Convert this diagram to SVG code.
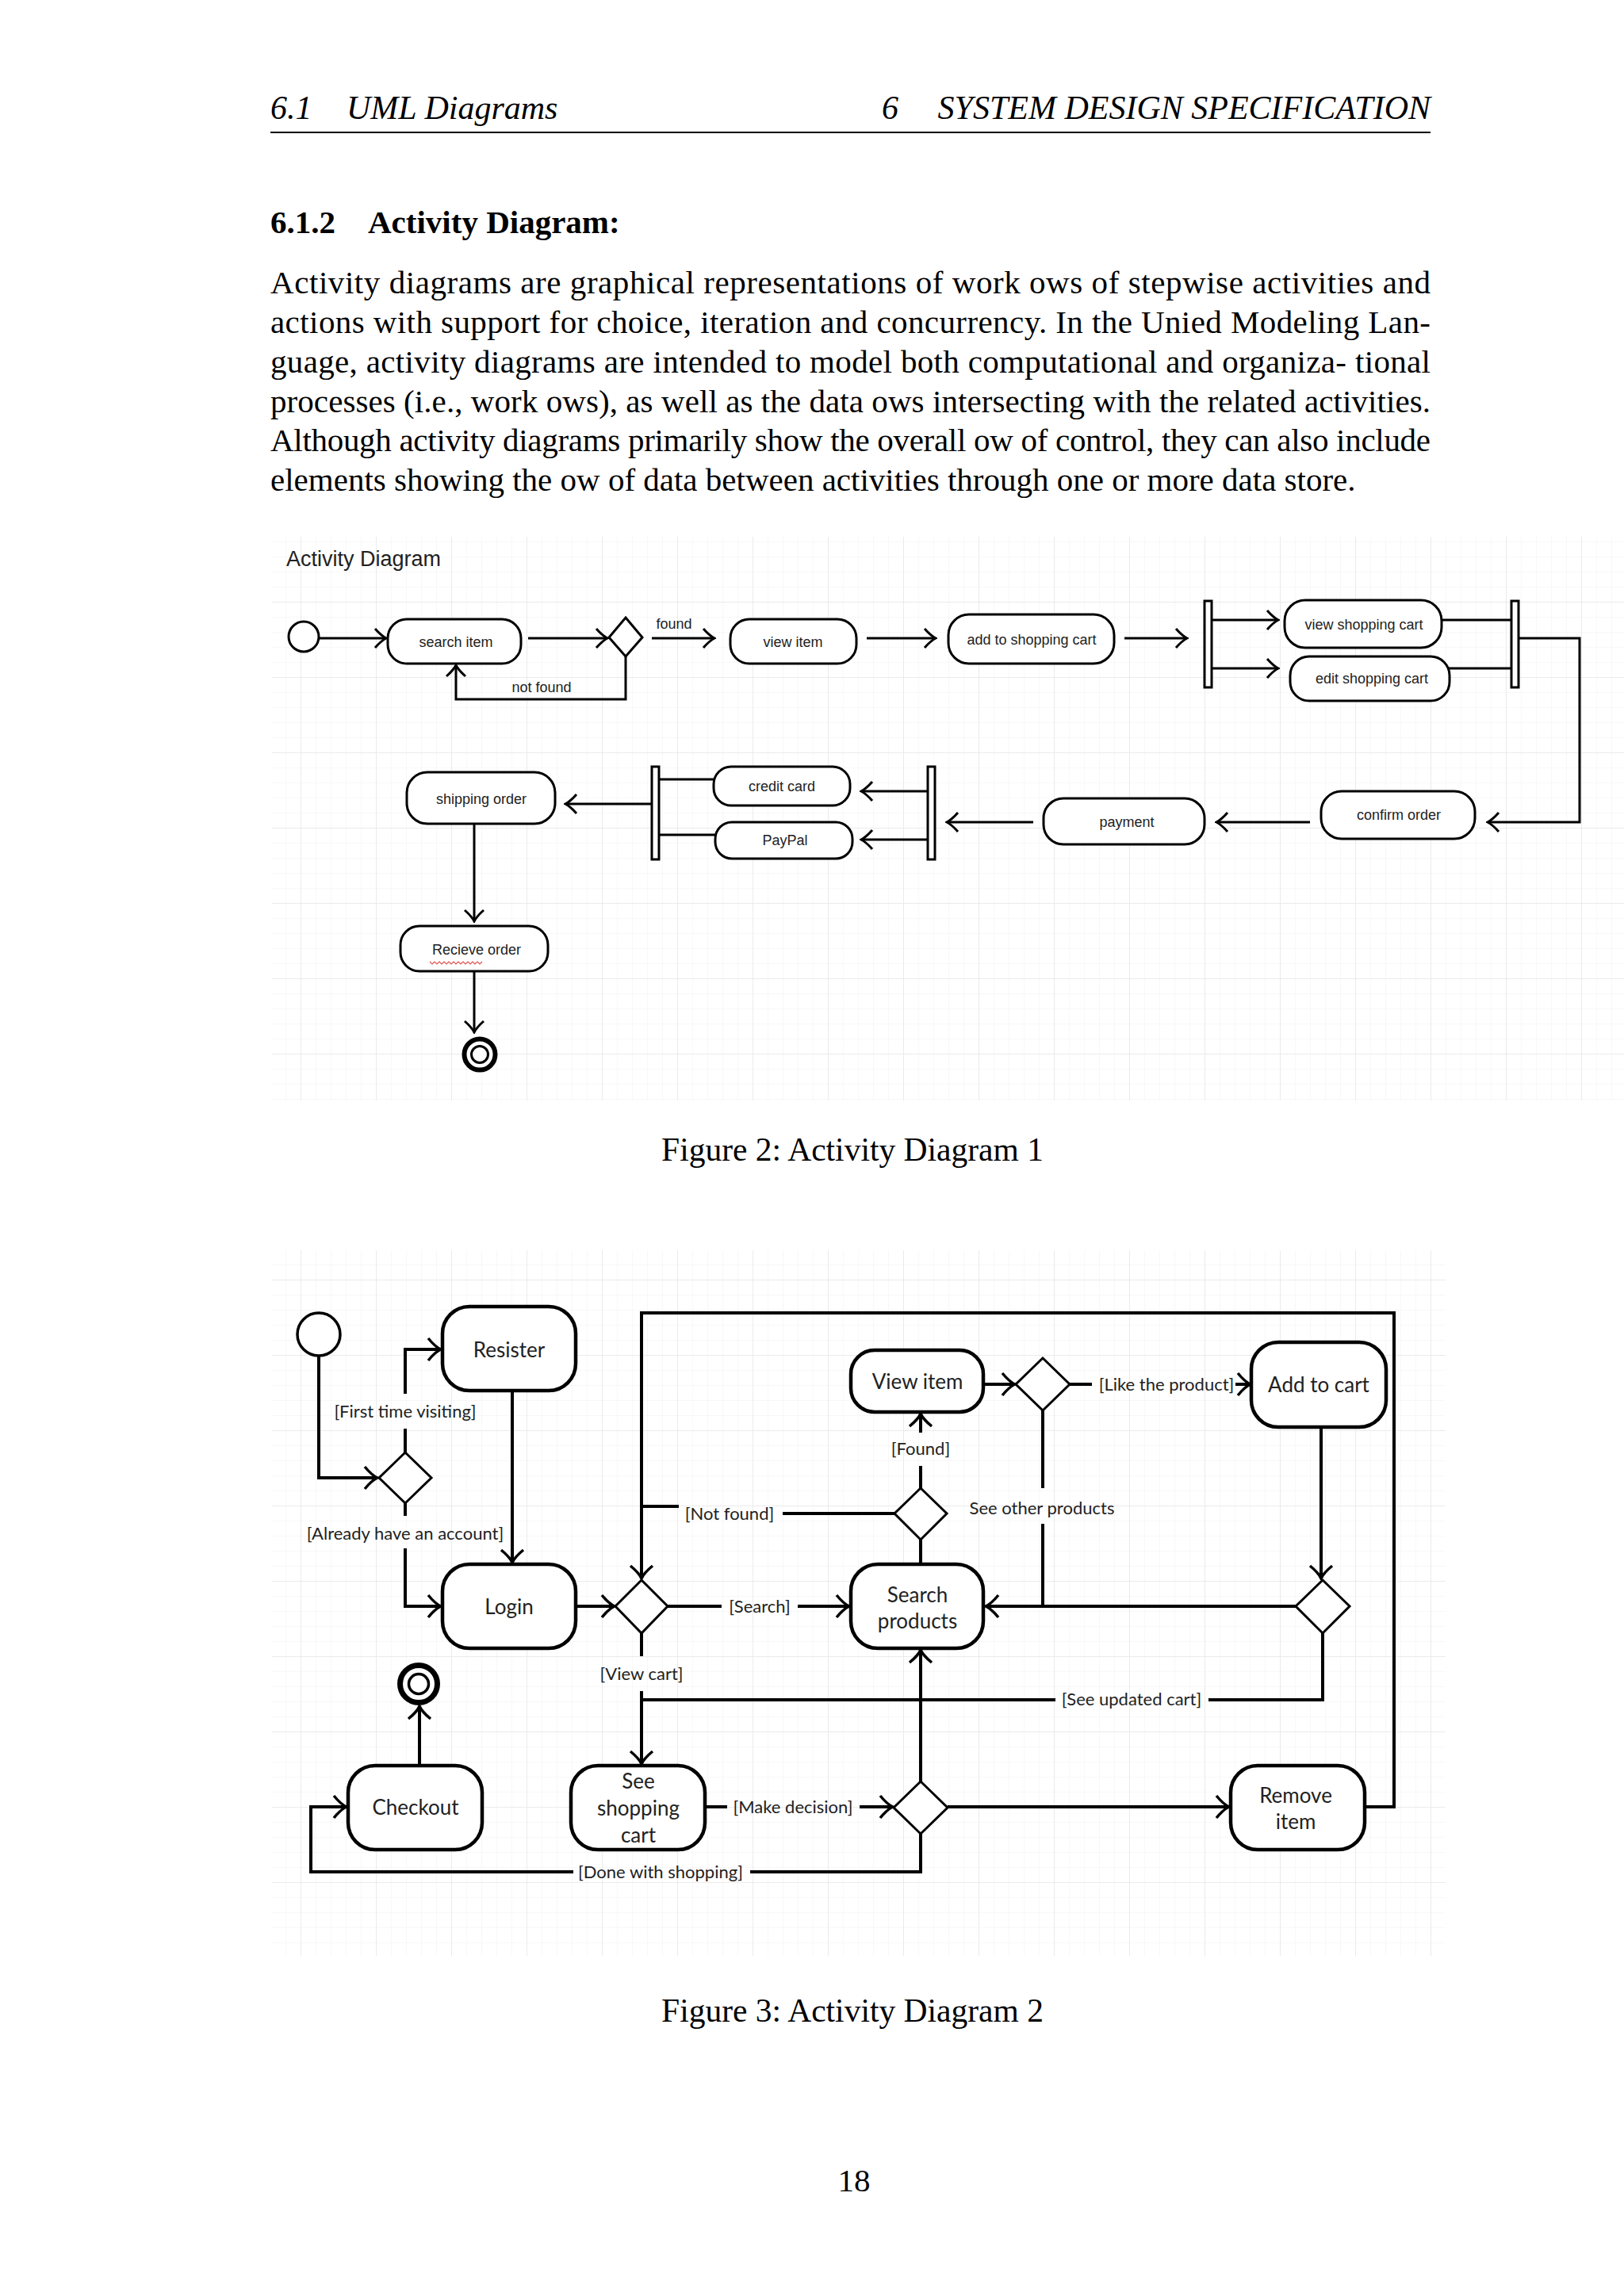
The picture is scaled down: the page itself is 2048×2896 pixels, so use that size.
<svg xmlns="http://www.w3.org/2000/svg" width="2048" height="2896" viewBox="0 0 2048 2896">
<defs>
<style>
.serif{font-family:"Liberation Serif","Times New Roman",serif;fill:#000}
.hdr{font-size:42px;font-style:italic}
.body{font-size:41px}
.b1{fill:#fff;stroke:#000;stroke-width:3}
.l1{fill:none;stroke:#000;stroke-width:3}
.t1{font-family:"Liberation Sans",Arial,sans-serif;font-size:18px;fill:#222;text-anchor:middle}
.b2{fill:#fff;stroke:#000;stroke-width:4.5}
.d2{fill:#fff;stroke:#000;stroke-width:3}
.l2{fill:none;stroke:#000;stroke-width:4}
.t2{font-family:Lato,"Open Sans",sans-serif;font-size:26px;fill:#222;text-anchor:middle}
.g2{font-family:Lato,"Open Sans",sans-serif;font-size:22px;fill:#222;text-anchor:middle}
</style>
<pattern id="minor" width="19" height="19" patternUnits="userSpaceOnUse">
<path d="M19,0 V19 M0,19 H19" fill="none" stroke="#f1f1f1" stroke-width="1"/>
</pattern>
<pattern id="major" width="95" height="95" patternUnits="userSpaceOnUse">
<rect width="95" height="95" fill="url(#minor)"/>
<path d="M95,0 V95 M0,95 H95" fill="none" stroke="#e6e6e6" stroke-width="1.5"/>
</pattern>
<marker id="ar1" viewBox="-17 -15 19 30" refX="0" refY="0" markerWidth="19" markerHeight="30" markerUnits="userSpaceOnUse" orient="auto">
<path d="M-14,-12 Q-6,-3 0,0 Q-6,3 -14,12" fill="none" stroke="#000" stroke-width="3"/>
</marker>
<marker id="ar2" viewBox="-19 -17 21 34" refX="0" refY="0" markerWidth="21" markerHeight="34" markerUnits="userSpaceOnUse" orient="auto">
<path d="M-16,-14 Q-7,-3 0,0 Q-7,3 -16,14" fill="none" stroke="#000" stroke-width="3.5"/>
</marker>
</defs>
<rect width="2048" height="2896" fill="#fff"/>

<g id="page-header">
<text class="serif hdr" x="341" y="150">6.1</text>
<text class="serif hdr" x="437" y="150">UML Diagrams</text>
<text class="serif hdr" x="1112" y="150">6</text>
<text class="serif hdr" x="1804" y="150" text-anchor="end">SYSTEM DESIGN SPECIFICATION</text>
<line x1="341" y1="167" x2="1804" y2="167" stroke="#000" stroke-width="2"/>
</g>

<g id="section-text">
<text class="serif" x="341" y="294" font-size="41" font-weight="bold">6.1.2</text>
<text class="serif" x="464" y="294" font-size="41" font-weight="bold">Activity Diagram:</text>
<text class="serif body" x="341" y="370" textLength="1463" lengthAdjust="spacing">Activity diagrams are graphical representations of work ows of stepwise activities and</text>
<text class="serif body" x="341" y="420" textLength="1463" lengthAdjust="spacing">actions with support for choice, iteration and concurrency.  In the Unied Modeling Lan-</text>
<text class="serif body" x="341" y="470" textLength="1463" lengthAdjust="spacing">guage, activity diagrams are intended to model both computational and organiza- tional</text>
<text class="serif body" x="341" y="520" textLength="1463" lengthAdjust="spacing">processes (i.e., work ows), as well as the data ows intersecting with the related activities.</text>
<text class="serif body" x="341" y="569" textLength="1463" lengthAdjust="spacing">Although activity diagrams primarily show the overall ow of control, they can also include</text>
<text class="serif body" x="341" y="619">elements showing the ow of data between activities through one or more data store.</text>
</g>

<!-- ================= Diagram 1 ================= -->
<g id="diagram1">
<rect x="343" y="677" width="1705" height="711" fill="url(#major)"/>
<text x="361" y="714" font-family="Liberation Sans, Arial, sans-serif" font-size="27" fill="#222">Activity Diagram</text>

<g id="d1-connectors">
<path class="l1" d="M402,805 H487" marker-end="url(#ar1)"/>
<path class="l1" d="M666,805 H766" marker-end="url(#ar1)"/>
<path class="l1" d="M822,805 H901" marker-end="url(#ar1)"/>
<path class="l1" d="M789,828 V882 H575 V839" marker-end="url(#ar1)"/>
<path class="l1" d="M1093,805 H1180" marker-end="url(#ar1)"/>
<path class="l1" d="M1418,805 H1497" marker-end="url(#ar1)"/>
<path class="l1" d="M1528,782 H1612" marker-end="url(#ar1)"/>
<path class="l1" d="M1528,843 H1612" marker-end="url(#ar1)"/>
<path class="l1" d="M1818,782 H1906"/>
<path class="l1" d="M1821,843 H1906"/>
<path class="l1" d="M1915,805 H1992 V1037 H1876" marker-end="url(#ar1)"/>
<path class="l1" d="M1652,1037 H1534" marker-end="url(#ar1)"/>
<path class="l1" d="M1303,1037 H1194" marker-end="url(#ar1)"/>
<path class="l1" d="M1169,998 H1086" marker-end="url(#ar1)"/>
<path class="l1" d="M1169,1059 H1086" marker-end="url(#ar1)"/>
<path class="l1" d="M900,983 H831"/>
<path class="l1" d="M902,1053 H831"/>
<path class="l1" d="M822,1014 H713" marker-end="url(#ar1)"/>
<path class="l1" d="M598,1039 V1162" marker-end="url(#ar1)"/>
<path class="l1" d="M598,1225 V1302" marker-end="url(#ar1)"/>
<text class="t1" x="850" y="793">found</text>
<text class="t1" x="683" y="873">not found</text>
</g>

<g id="d1-start"><circle cx="383" cy="803" r="19" class="b1"/></g>
<g id="d1-search-item"><rect x="489" y="781" width="168" height="56" rx="24" class="b1"/><text class="t1" x="575" y="816">search item</text></g>
<g id="d1-decision"><path d="M789,779 L810,804 L789,828 L768,804 Z" class="b1"/></g>
<g id="d1-view-item"><rect x="921" y="781" width="159" height="56" rx="24" class="b1"/><text class="t1" x="1000" y="816">view item</text></g>
<g id="d1-add-cart"><rect x="1196" y="775" width="209" height="62" rx="26" class="b1"/><text class="t1" x="1301" y="813">add to shopping cart</text></g>
<g id="d1-fork1"><rect x="1519" y="758" width="9" height="109" class="b1"/></g>
<g id="d1-view-cart"><rect x="1620" y="757" width="198" height="60" rx="26" class="b1"/><text class="t1" x="1720" y="794">view shopping cart</text></g>
<g id="d1-edit-cart"><rect x="1627" y="828" width="201" height="56" rx="24" class="b1"/><text class="t1" x="1730" y="862">edit shopping cart</text></g>
<g id="d1-join1"><rect x="1906" y="758" width="9" height="109" class="b1"/></g>
<g id="d1-confirm"><rect x="1666" y="998" width="194" height="60" rx="26" class="b1"/><text class="t1" x="1764" y="1034">confirm order</text></g>
<g id="d1-payment"><rect x="1316" y="1007" width="203" height="58" rx="25" class="b1"/><text class="t1" x="1421" y="1043">payment</text></g>
<g id="d1-fork2"><rect x="1170" y="967" width="9" height="117" class="b1"/></g>
<g id="d1-credit"><rect x="900" y="967" width="172" height="49" rx="22" class="b1"/><text class="t1" x="986" y="998">credit card</text></g>
<g id="d1-paypal"><rect x="902" y="1037" width="173" height="46" rx="21" class="b1"/><text class="t1" x="990" y="1066">PayPal</text></g>
<g id="d1-join2"><rect x="822" y="967" width="9" height="117" class="b1"/></g>
<g id="d1-shipping"><rect x="513" y="974" width="187" height="65" rx="26" class="b1"/><text class="t1" x="607" y="1014">shipping order</text></g>
<g id="d1-receive"><rect x="505" y="1168" width="186" height="57" rx="24" class="b1"/><text class="t1" x="601" y="1204">Recieve order</text>
<path d="M542,1213 l3,3 l3,-3 l3,3 l3,-3 l3,3 l3,-3 l3,3 l3,-3 l3,3 l3,-3 l3,3 l3,-3 l3,3 l3,-3 l3,3 l3,-3 l3,3 l3,-3 l3,3 l3,-3 l3,3 l3,-3" fill="none" stroke="#e05050" stroke-width="1.2"/></g>
<g id="d1-end"><circle cx="605" cy="1330" r="19.5" fill="#fff" stroke="#000" stroke-width="6"/><circle cx="605" cy="1330" r="10.5" fill="#fff" stroke="#000" stroke-width="3"/></g>
</g>

<text class="serif" x="1075" y="1464" font-size="41.5" text-anchor="middle">Figure 2: Activity Diagram 1</text>

<!-- ================= Diagram 2 ================= -->
<g id="diagram2">
<rect x="343" y="1577" width="1480" height="890" fill="url(#major)"/>

<g id="d2-connectors">
<path class="l2" d="M402,1710 V1864 H476" marker-end="url(#ar2)"/>
<path class="l2" d="M511,1832 V1802"/>
<path class="l2" d="M511,1758 V1702 H556" marker-end="url(#ar2)"/>
<path class="l2" d="M511,1896 V1912"/>
<path class="l2" d="M511,1953 V2026 H556" marker-end="url(#ar2)"/>
<path class="l2" d="M646,1754 V1971" marker-end="url(#ar2)"/>
<path class="l2" d="M726,2026 H775" marker-end="url(#ar2)"/>
<path class="l2" d="M842,2026 H910"/>
<path class="l2" d="M1006,2026 H1071" marker-end="url(#ar2)"/>
<path class="l2" d="M1721,2279 H1758 V1656 H809 V1991" marker-end="url(#ar2)"/>
<path class="l2" d="M1128,1909 H987"/>
<path class="l2" d="M856,1900 H809"/>
<path class="l2" d="M1161,1942 V1973"/>
<path class="l2" d="M1161,1877 V1849"/>
<path class="l2" d="M1161,1807 V1783" marker-end="url(#ar2)"/>
<path class="l2" d="M1240,1746 H1280" marker-end="url(#ar2)"/>
<path class="l2" d="M1349,1746 H1377"/>
<path class="l2" d="M1558,1746 H1577" marker-end="url(#ar2)"/>
<path class="l2" d="M1315,1779 V1877"/>
<path class="l2" d="M1315,1922 V2026"/>
<path class="l2" d="M1666,1800 V1991" marker-end="url(#ar2)"/>
<path class="l2" d="M1634,2026 H1243" marker-end="url(#ar2)"/>
<path class="l2" d="M1668,2060 V2144 H1524"/>
<path class="l2" d="M1331,2144 H809"/>
<path class="l2" d="M809,2060 V2089"/>
<path class="l2" d="M809,2133 V2225" marker-end="url(#ar2)"/>
<path class="l2" d="M889,2279 H917"/>
<path class="l2" d="M1084,2279 H1126" marker-end="url(#ar2)"/>
<path class="l2" d="M1161,2247 V2081" marker-end="url(#ar2)"/>
<path class="l2" d="M1195,2279 H1550" marker-end="url(#ar2)"/>
<path class="l2" d="M1161,2313 V2361 H946"/>
<path class="l2" d="M723,2361 H392 V2279 H437" marker-end="url(#ar2)"/>
<path class="l2" d="M529,2227 V2152" marker-end="url(#ar2)"/>
<text class="g2" x="511" y="1788">[First time visiting]</text>
<text class="g2" x="511" y="1942">[Already have an account]</text>
<text class="g2" x="958" y="2034">[Search]</text>
<text class="g2" x="920" y="1917">[Not found]</text>
<text class="g2" x="1161" y="1835">[Found]</text>
<text class="g2" x="1471" y="1754">[Like the product]</text>
<text class="g2" x="1314" y="1910">See other products</text>
<text class="g2" x="809" y="2119">[View cart]</text>
<text class="g2" x="1427" y="2151">[See updated cart]</text>
<text class="g2" x="1000" y="2287">[Make decision]</text>
<text class="g2" x="833" y="2369">[Done with shopping]</text>
</g>

<g id="d2-start"><circle cx="402" cy="1683" r="27" fill="#fff" stroke="#000" stroke-width="3.5"/></g>
<g id="d2-decision1"><path d="M511,1832 L544,1864 L511,1896 L478,1864 Z" class="d2"/></g>
<g id="d2-resister"><rect x="558" y="1648" width="168" height="106" rx="34" class="b2"/><text class="t2" x="642" y="1712">Resister</text></g>
<g id="d2-login"><rect x="558" y="1973" width="168" height="106" rx="34" class="b2"/><text class="t2" x="642" y="2036">Login</text></g>
<g id="d2-decision2"><path d="M809,1993 L842,2026 L809,2060 L776,2026 Z" class="d2"/></g>
<g id="d2-decision3"><path d="M1161,1877 L1194,1909 L1161,1942 L1128,1909 Z" class="d2"/></g>
<g id="d2-view-item"><rect x="1073" y="1703" width="167" height="78" rx="30" class="b2"/><text class="t2" x="1157" y="1752">View item</text></g>
<g id="d2-decision4"><path d="M1315,1713 L1349,1746 L1315,1779 L1281,1746 Z" class="d2"/></g>
<g id="d2-add-cart"><rect x="1578" y="1693" width="170" height="107" rx="34" class="b2"/><text class="t2" x="1663" y="1756">Add to cart</text></g>
<g id="d2-decision5"><path d="M1668,1993 L1702,2026 L1668,2060 L1634,2026 Z" class="d2"/></g>
<g id="d2-search"><rect x="1073" y="1973" width="167" height="106" rx="34" class="b2"/><text class="t2" x="1157" y="2021">Search</text><text class="t2" x="1157" y="2054">products</text></g>
<g id="d2-end"><circle cx="528" cy="2124" r="23.5" fill="#fff" stroke="#000" stroke-width="7"/><circle cx="528" cy="2124" r="12.5" fill="#fff" stroke="#000" stroke-width="3.5"/></g>
<g id="d2-checkout"><rect x="439" y="2227" width="169" height="106" rx="34" class="b2"/><text class="t2" x="524" y="2289">Checkout</text></g>
<g id="d2-see-cart"><rect x="720" y="2227" width="169" height="106" rx="34" class="b2"/><text class="t2" x="805" y="2256">See</text><text class="t2" x="805" y="2290">shopping</text><text class="t2" x="805" y="2324">cart</text></g>
<g id="d2-decision6"><path d="M1161,2247 L1195,2280 L1161,2313 L1127,2280 Z" class="d2"/></g>
<g id="d2-remove"><rect x="1552" y="2227" width="169" height="106" rx="34" class="b2"/><text class="t2" x="1634" y="2274">Remove</text><text class="t2" x="1634" y="2307">item</text></g>
</g>

<text class="serif" x="1075" y="2550" font-size="41.5" text-anchor="middle">Figure 3: Activity Diagram 2</text>
<text class="serif" x="1077" y="2764" font-size="41" text-anchor="middle">18</text>
</svg>
